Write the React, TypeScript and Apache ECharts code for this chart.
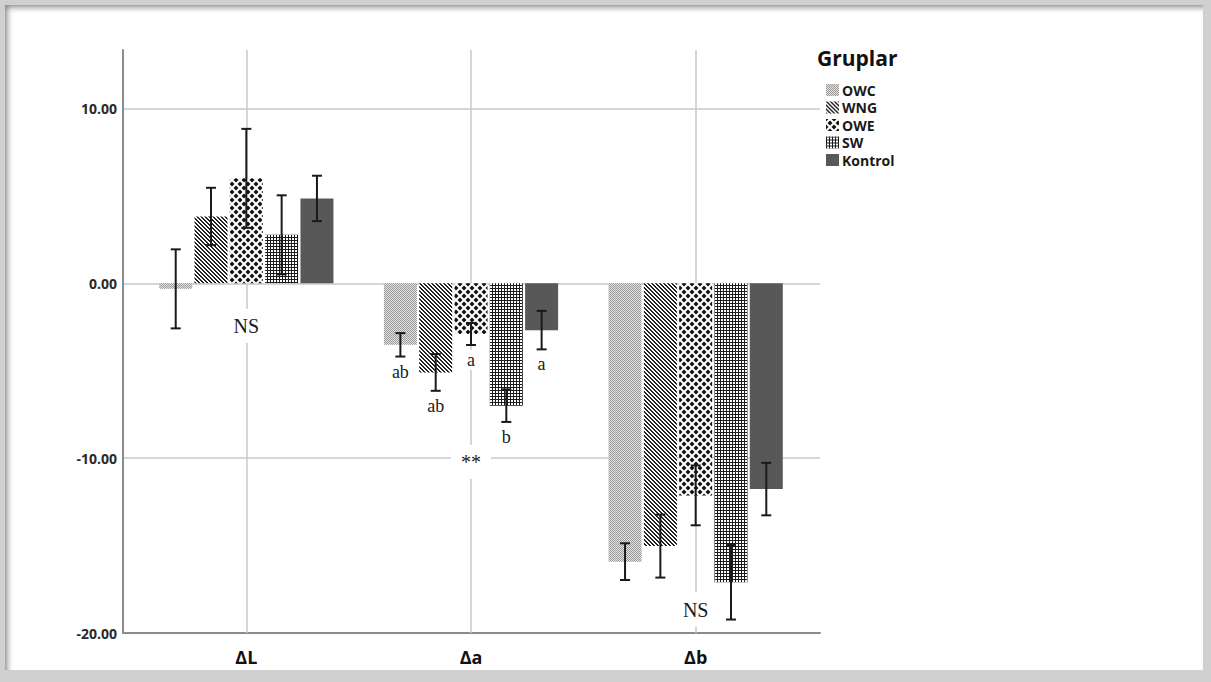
import React, { useEffect, useRef } from 'react';
import * as echarts from 'echarts';

// ---------- data ----------
const categories = ['ΔL', 'Δa', 'Δb'];
const groups = ['OWC', 'WNG', 'OWE', 'SW', 'Kontrol'];

const owcMeans = [-0.32, -3.52, -15.92];
const wngMeans = [3.82, -5.1, -15.03];
const oweMeans = [6.0, -2.9, -12.13];
const swMeans = [2.77, -7.0, -17.1];
const kontrolMeans = [4.85, -2.68, -11.77];

const owcErrors = [2.26, 0.67, 1.05];
const wngErrors = [1.64, 1.05, 1.8];
const oweErrors = [2.83, 0.63, 1.71];
const swErrors = [2.26, 0.93, 2.13];
const kontrolErrors = [1.3, 1.1, 1.5];

// significance letters (per group, per category)
const owcLetters = ['', 'ab', ''];
const wngLetters = ['', 'ab', ''];
const oweLetters = ['', 'a', ''];
const swLetters = ['', 'b', ''];
const kontrolLetters = ['', 'a', ''];

// group notes
const noteCategories = ['ΔL', 'Δa', 'Δb'];
const noteValues = [-2.43, -10.21, -18.66];
const noteTexts = ['NS', '**', 'NS'];

const yMin = -20;
const yMax = 13.34;
const yInterval = 10;

const allMeans = [owcMeans, wngMeans, oweMeans, swMeans, kontrolMeans];
const allErrors = [owcErrors, wngErrors, oweErrors, swErrors, kontrolErrors];
const allLetters = [owcLetters, wngLetters, oweLetters, swLetters, kontrolLetters];

// ---------- styles ----------
const BAR_WIDTH = 33;
const BAR_GAP = 0.07;
const CAP = 10;
const SERIF = '"Liberation Serif", "Times New Roman", serif';
const SANS = '"Open Sans", "DejaVu Sans", sans-serif';

function tile(w: number, h: number, bg: string, body: string, crisp = true) {
  const svg = `<svg xmlns="http://www.w3.org/2000/svg" width="${w}" height="${h}"${crisp ? ' shape-rendering="crispEdges"' : ''}><rect width="${w}" height="${h}" fill="${bg}"/>${body}</svg>`;
  return {
    image: 'data:image/svg+xml;charset=utf-8,' + encodeURIComponent(svg),
    repeat: 'repeat',
    imageWidth: w,
    imageHeight: h,
  } as any;
}

function stripes() {
  let s = '';
  for (let y = 0; y < 4; y++) {
    for (let x = 0; x < 4; x++) {
      const d = (((x - y) % 4) + 4) % 4;
      if (d === 0 || d === 1) s += `<rect x="${x}" y="${y}" width="1" height="1" fill="#222222"/>`;
    }
  }
  return s;
}

function diamonds() {
  const r = 2.5;
  const pts = (cx: number, cy: number) =>
    `<polygon points="${cx},${cy - r} ${cx + r},${cy} ${cx},${cy + r} ${cx - r},${cy}" fill="#111"/>`;
  return pts(4, 4) + pts(0, 0) + pts(8, 0) + pts(0, 8) + pts(8, 8);
}

const patterns = [
  tile(2, 2, '#e4e4e4', '<rect x="0" y="0" width="1" height="1" fill="#999999"/><rect x="1" y="1" width="1" height="1" fill="#999999"/>'),
  tile(4, 4, '#ffffff', stripes()),
  tile(8, 8, '#ffffff', diamonds(), false),
  tile(3, 3, '#ffffff', '<rect x="0" y="0" width="3" height="1" fill="#1c1c1c"/><rect x="0" y="0" width="1" height="3" fill="#1c1c1c"/>'),
  '#585858',
];

function buildOption(): any {
  const pitch = BAR_WIDTH * (1 + BAR_GAP);
  const mid = (groups.length - 1) / 2;

  const barSeries = groups.map((g, i) => ({
    name: g,
    type: 'bar',
    xAxisIndex: 1,
    yAxisIndex: 1,
    barWidth: BAR_WIDTH,
    barGap: `${BAR_GAP * 100}%`,
    z: 2,
    itemStyle: { color: patterns[i] },
    data: allMeans[i],
  }));

  const errData: number[][] = [];
  groups.forEach((_, s) => {
    categories.forEach((__, c) => {
      errData.push([c, s, allMeans[s][c], allErrors[s][c]]);
    });
  });

  const errSeries = {
    name: 'errors',
    type: 'custom',
    xAxisIndex: 1,
    yAxisIndex: 1,
    z: 3,
    silent: true,
    data: errData,
    renderItem: (params: any, api: any) => {
      const c = api.value(0);
      const s = api.value(1);
      const mean = api.value(2);
      const err = api.value(3);
      const top = api.coord([c, mean + err]);
      const bot = api.coord([c, mean - err]);
      const x = top[0] + (s - mid) * pitch;
      const st = { stroke: '#1a1a1a', lineWidth: 2 };
      const children: any[] = [
        { type: 'line', shape: { x1: x, y1: top[1], x2: x, y2: bot[1] }, style: st },
        { type: 'line', shape: { x1: x - CAP / 2, y1: top[1], x2: x + CAP / 2, y2: top[1] }, style: st },
        { type: 'line', shape: { x1: x - CAP / 2, y1: bot[1], x2: x + CAP / 2, y2: bot[1] }, style: st },
      ];
      const letter = allLetters[s][c];
      if (letter) {
        children.push({
          type: 'text',
          x,
          y: bot[1] + 5,
          z2: 5,
          style: {
            text: letter,
            font: `18px ${SERIF}`,
            fill: '#1a1a1a',
            align: 'center',
            verticalAlign: 'top',
            backgroundColor: '#ffffff',
            padding: [1, 3, 1, 3],
          },
        });
      }
      return { type: 'group', children };
    },
  };

  const noteSeries = {
    name: 'notes',
    type: 'custom',
    xAxisIndex: 1,
    yAxisIndex: 1,
    z: 4,
    silent: true,
    data: noteCategories.map((c, i) => [categories.indexOf(c), noteValues[i]]),
    renderItem: (params: any, api: any) => {
      const p = api.coord([api.value(0), api.value(1)]);
      return {
        type: 'text',
        x: p[0],
        y: p[1],
        style: {
          text: noteTexts[params.dataIndex],
          font: `20px ${SERIF}`,
          fill: '#1a1a1a',
          align: 'center',
          verticalAlign: 'middle',
          backgroundColor: '#ffffff',
          padding: [7, 10],
        },
      };
    },
    markLine: {
      silent: true,
      z: 1,
      symbol: ['none', 'none'],
      label: { show: false },
      lineStyle: { color: '#c8c8c8', width: 1.5, type: 'solid' },
      data: categories.map((c) => ({ xAxis: c })),
    },
  };

  return {
    animation: false,
    textStyle: { fontFamily: SANS },
    title: {
      text: 'Gruplar',
      left: 817,
      top: 47,
      padding: 0,
      textStyle: { fontFamily: SANS, fontWeight: 'bold', fontSize: 21, color: '#111' },
    },
    legend: {
      data: groups,
      orient: 'vertical',
      left: 826,
      top: 83,
      padding: 0,
      icon: 'rect',
      itemWidth: 13,
      itemHeight: 12,
      itemGap: 3.5,
      selectedMode: false,
      textStyle: { fontFamily: SANS, fontWeight: 'bold', fontSize: 14, lineHeight: 14, color: '#1a1a1a', padding: [0, 0, 0, -2] },
    },
    grid: [
      { left: 123, top: 50, width: 697, height: 583, containLabel: false },
      { left: 134, top: 50, width: 674, height: 583, containLabel: false },
    ],
    xAxis: [
      {
        gridIndex: 0,
        type: 'value',
        min: 0,
        max: 1,
        axisLine: { show: true, onZero: false, lineStyle: { color: '#8c8c8c', width: 2 } },
        axisTick: { show: false },
        axisLabel: { show: false },
        splitLine: { show: false },
      },
      {
        gridIndex: 1,
        type: 'category',
        data: categories,
        axisLine: { show: false },
        axisTick: { show: false },
        splitLine: { show: false },
        axisLabel: { fontFamily: SANS, fontWeight: 'bold', fontSize: 18, color: '#111', margin: 15 },
      },
    ],
    yAxis: [
      {
        gridIndex: 0,
        type: 'value',
        min: yMin,
        max: yMax,
        interval: yInterval,
        axisLine: { show: true, onZero: false, lineStyle: { color: '#8c8c8c', width: 2 } },
        axisTick: { show: false },
        axisLabel: {
          fontFamily: SANS,
          fontWeight: 'bold',
          fontSize: 14,
          color: '#2a2a2a',
          margin: 6,
          formatter: (v: number) => (v > 10.01 ? '' : v.toFixed(2)),
        },
        splitLine: { show: true, showMinLine: false, showMaxLine: false, lineStyle: { color: '#c8c8c8', width: 1.5 } },
      },
      {
        gridIndex: 1,
        type: 'value',
        min: yMin,
        max: yMax,
        interval: yInterval,
        show: false,
        splitLine: { show: false },
      },
    ],
    series: [...barSeries, errSeries, noteSeries],
  };
}

export default function App() {
  const ref = useRef<HTMLDivElement>(null);
  useEffect(() => {
    const chart = echarts.init(ref.current!, null, { renderer: 'svg' });
    chart.setOption(buildOption());
    return () => chart.dispose();
  }, []);
  return (
    <div style={{ position: 'absolute', left: 0, top: 0, width: 1211, height: 682, background: '#d0d0d0', overflow: 'hidden' }}>
      <div
        style={{
          position: 'absolute',
          left: 5,
          top: 5,
          width: 1198,
          height: 665,
          background: '#ffffff',
          boxShadow: 'inset 4px 4px 6px -2px rgba(0,0,0,0.5)',
        }}
      />
      <div ref={ref} style={{ position: 'absolute', left: 0, top: 0, width: 1211, height: 682 }} />
    </div>
  );
}
